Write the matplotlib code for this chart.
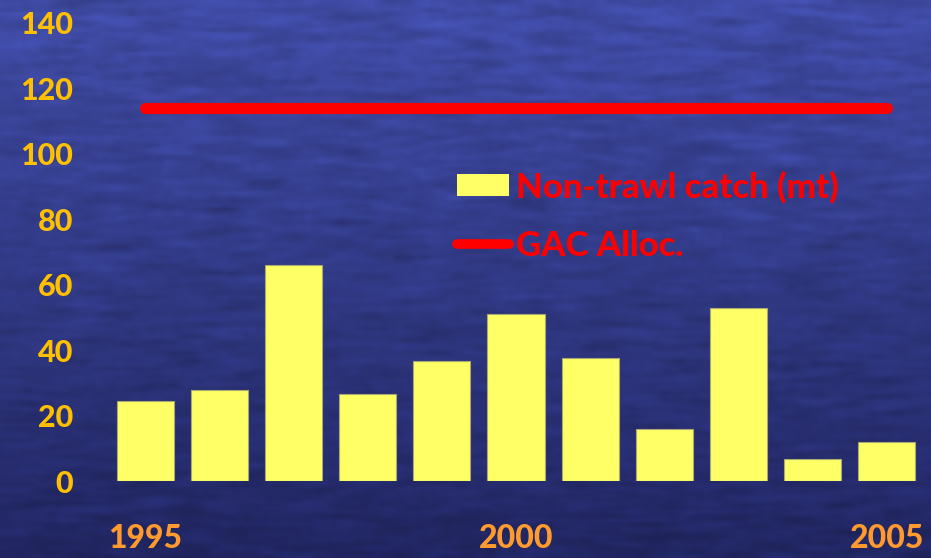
import numpy as np
import matplotlib
matplotlib.use("Agg")
import matplotlib.pyplot as plt
from matplotlib.patches import Patch
from matplotlib.lines import Line2D

# Data
years = [1995, 1996, 1997, 1998, 1999, 2000, 2001, 2002, 2003, 2004, 2005]
nontrawl_catch = [24.6, 27.8, 66.1, 26.6, 36.6, 51.2, 37.5, 15.9, 52.8, 6.7, 12.0]
gac_alloc = [114] * len(years)
year_ticks = [1995, 2000, 2005]
y_ticks = [0, 20, 40, 60, 80, 100, 120, 140]

plt.rcParams["font.family"] = ["Lato", "DejaVu Sans"]
plt.rcParams["font.weight"] = "bold"

W, H = 931, 558
fig = plt.figure(figsize=(W / 100, H / 100), dpi=100)

# Ocean-blue textured backdrop
bg = fig.add_axes([0, 0, 1, 1], zorder=-10)
rng = np.random.default_rng(7)
rows, cols = 140, 233
t = np.linspace(0, 1, rows)[:, None]
top = np.array([64, 76, 166]) / 255
bot = np.array([33, 38, 98]) / 255
base = top[None, None, :] * (1 - t[..., None]) + bot[None, None, :] * t[..., None]
noise = rng.normal(0, 1, (rows, cols))
# horizontal streaks: smooth noise along rows
kernel = np.ones(9) / 9
noise = np.apply_along_axis(lambda r: np.convolve(r, kernel, mode="same"), 1, noise)
noise = noise / noise.std()
img = np.clip(base * (1 + 0.06 * noise[..., None]), 0, 1)
bg.imshow(img, aspect="auto", interpolation="bicubic", extent=[0, 1, 0, 1])
bg.set_axis_off()

ax = fig.add_axes([108 / W, (H - 481.3) / H, 816 / W, 458.6 / H])
ax.patch.set_alpha(0)
ax.bar(years, nontrawl_catch, width=0.77, color="#FFFF66",
       edgecolor="#A8A870", linewidth=0.8, zorder=2)
ax.plot(years, gac_alloc, color="#FF0000", linewidth=8,
        solid_capstyle="round", zorder=3)

ax.set_xlim(1994.5, 2005.5)
ax.set_ylim(0, 140)
ax.set_yticks(y_ticks)
ax.set_yticklabels([str(v) for v in y_ticks])
ax.set_xticks(year_ticks)
ax.set_xticklabels([str(v) for v in year_ticks])
ax.tick_params(axis="y", length=0, pad=25, labelsize=22, labelcolor="#FFC000")
ax.tick_params(axis="x", length=0, pad=31, labelsize=23, labelcolor="#FF9A2E")
for lab in ax.get_xticklabels() + ax.get_yticklabels():
    lab.set_fontweight(900)
for s in ax.spines.values():
    s.set_visible(False)

handles = [
    Patch(facecolor="#FFFF66", edgecolor="none", label="Non-trawl catch (mt)"),
    Line2D([0], [0], color="#FF0000", linewidth=7, solid_capstyle="round",
           label="GAC Alloc."),
]
leg = ax.legend(handles=handles, loc="upper left",
                bbox_to_anchor=(457 / W, (H - 171) / H),
                bbox_transform=fig.transFigure, frameon=False,
                prop={"size": 25, "weight": 900}, labelcolor="#FF0000",
                handlelength=1.5, handleheight=0.6, handletextpad=0.2,
                labelspacing=0.75, borderpad=0, borderaxespad=0)

fig.savefig("out.png", dpi=100)
